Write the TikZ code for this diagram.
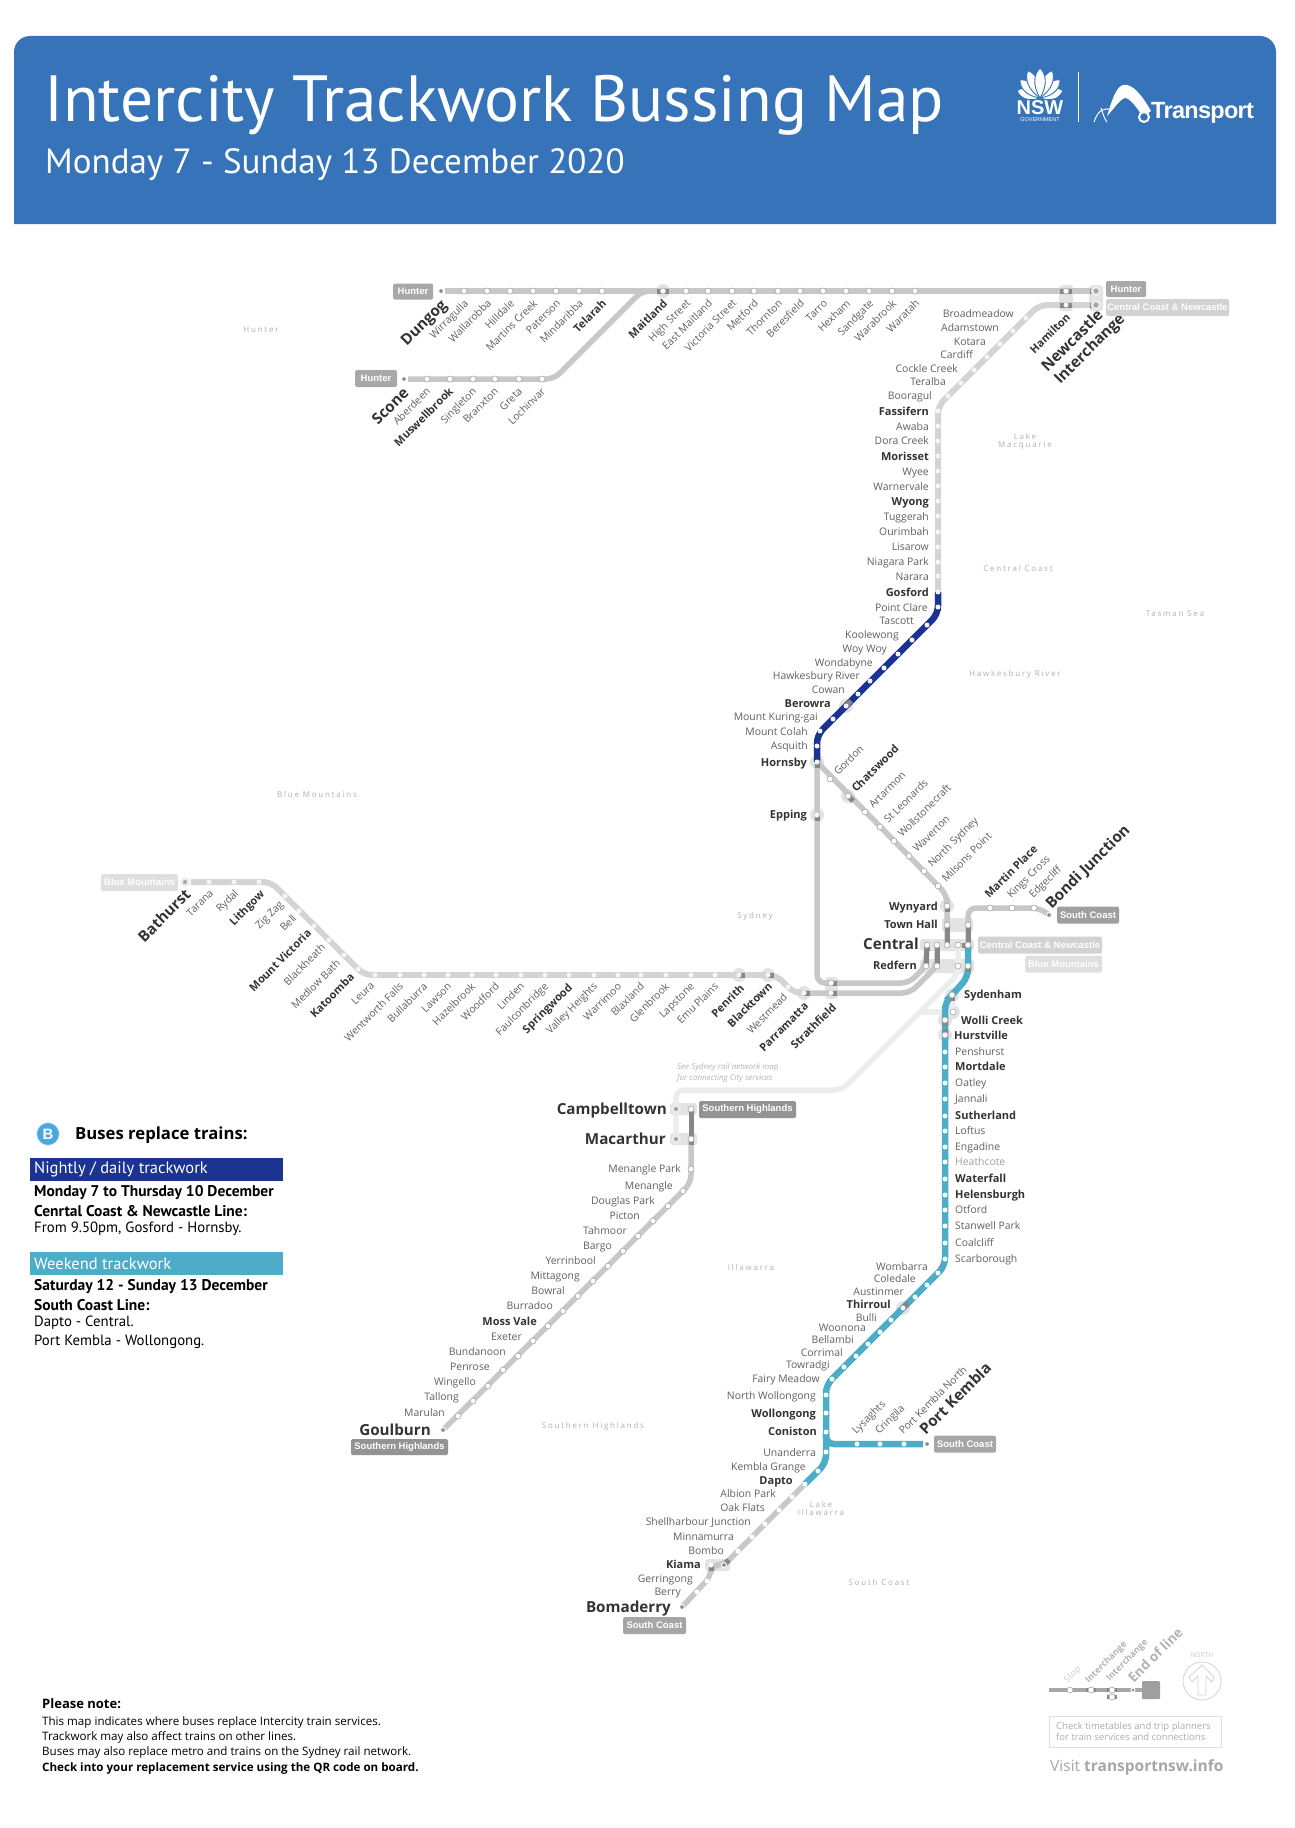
\documentclass[tikz,border=0pt]{standalone}
\usepackage{xcolor}
\usepackage{fontspec}
\usepackage{tikz}
\usetikzlibrary{calc,backgrounds,arrows.meta}
\setmainfont{Open Sans}
\newfontfamily\titlefont{PT Sans}
\newfontfamily\tagfont{Liberation Sans}
\newfontfamily\logofont[LetterSpace=-3]{Liberation Sans}
\newfontfamily\regionfont[LetterSpace=22]{Open Sans}
\definecolor{headblue}{HTML}{3673B8}
\definecolor{busblue}{HTML}{4BA6DC}
\definecolor{navyline}{HTML}{1B3391}
\definecolor{tealline}{HTML}{4DADC8}
\definecolor{railgrey}{HTML}{C8C8C8}
\definecolor{railfade}{HTML}{D4D4D4}
\definecolor{faintline}{HTML}{EDEDED}
\definecolor{halogrey}{HTML}{E3E3E3}
\definecolor{stubgrey}{HTML}{878787}
\definecolor{inkdark}{HTML}{333333}
\definecolor{inksoft}{HTML}{5E5F61}
\newcommand{\fs}[1]{\fontsize{#1}{#1}\selectfont}
\tikzset{
  rail/.style={line width=5.5pt, draw=railgrey, rounded corners=8pt},
  railfaded/.style={rail, draw=railfade, line width=6pt},
  railnavy/.style={rail, draw=navyline, line width=6.5pt},
  railteal/.style={rail, draw=tealline, line width=6.5pt},
  railfaint/.style={rail, draw=faintline},
  stubline/.style={line width=5pt, draw=stubgrey},
  stopnode/.style={circle, inner sep=0pt, minimum size=6pt, fill=white, draw=gray!70, line width=.6pt},
  stopfade/.style={circle, inner sep=0pt, minimum size=5pt, fill=white!96!black},
  enddot/.style={circle, inner sep=0pt, minimum size=5pt, fill=gray!90, draw=white, line width=1pt},
  endring/.style={circle, inner sep=0pt, minimum size=8pt, fill=gray!70, draw=white!92!black, line width=2.4pt},
  slab/.style={inner sep=0pt, text height=8pt, text depth=2pt, text=inksoft, font=\fs{10.4}},
  sbold/.style={inner sep=0pt, text height=8pt, text depth=2pt, text=inkdark, font=\fs{11}\bfseries},
  sfade/.style={slab, text=gray!75},
  sbig/.style={inner sep=0pt, text height=11pt, text depth=3pt, text=inkdark, font=\fs{15.2}\bfseries},
  linetag/.style={rounded corners=1.5pt, inner sep=0pt, text=white, font=\tagfont\fs{9.5}\bfseries},
  region/.style={inner sep=0pt, text=gray!62, align=center, font=\regionfont\fs{8}},
  note/.style={inner sep=0pt, anchor=west, text=black, font=\titlefont\fs{14.8}},
  noteb/.style={note, font=\titlefont\fs{15.5}\bfseries},
  noter/.style={inner sep=0pt, anchor=west, text=black, font=\fs{11.6}},
  barlab/.style={inner sep=0pt, anchor=west, text=white, font=\titlefont\fs{16.5}},
  pale/.style={inner sep=0pt, text=gray!60, font=\fs{9}}
}
\begin{document}
\begin{tikzpicture}[x=1pt,y=-1pt]
\useasboundingbox (0,0) rectangle (1294,1828);

% header
\fill[headblue] (14,224) [rounded corners=16pt] -- (14,36) -- (1276,36) [sharp corners] -- (1276,224) -- cycle;
\node[inner sep=0pt, anchor=west, text=white, font=\titlefont\fs{65.3}] (title) at (44,105) {Intercity Trackwork Bussing Map};
\node[inner sep=0pt, anchor=west, text=white, font=\titlefont\fs{35}] (subtitle) at (45,165) {Monday 7 - Sunday 13 December 2020};

% logos
\foreach \a/\l in {-72/24,72/24,-48/27,48/27,-24/30,24/30,0/30}
  \filldraw[white, draw=headblue, line width=.9pt, rotate around={\a:(1040,98)}] (1040,98) .. controls (1032,98-.45*\l) and (1034,98-.8*\l) .. (1040,98-\l) .. controls (1046,98-.8*\l) and (1048,98-.45*\l) .. (1040,98) -- cycle;
\node[inner sep=0pt, text=white, font=\tagfont\fs{20}\bfseries] (nsw) at (1040,108) {NSW};
\node[inner sep=0pt, text=white, font=\tagfont\fs{5.5}] (nswgov) at (1040,119.5) {GOVERNMENT};
\draw[white, line width=.8pt] (1078,72) -- (1078,122);
\fill[white] (1107,116) .. controls (1112,100) and (1116,87) .. (1123,85) .. controls (1133,83) and (1143,97) .. (1151,111) -- (1143,117) .. controls (1137,108) and (1130,98) .. (1125,98) .. controls (1120,99) and (1113,110) .. (1107,116) -- cycle;
\draw[white, fill=headblue, line width=2pt] (1144,117) circle[radius=5];
\draw[white, line width=1pt] (1094,122) .. controls (1098,110) and (1104,107) .. (1112,110);
\draw[white, line width=1pt] (1101,108) .. controls (1103,114) and (1104,118) .. (1107,122);
\node[inner sep=0pt, anchor=west, text=white, font=\logofont\fs{23.5}\bfseries] (transport) at (1151,113) {Transport};

% region names
\foreach \id/\x/\y/\lab in {rhunter/261/330/Hunter, rmacq/1025/441/{Lake\\Macquarie}, rcoast/1018/568/Central Coast,
  rtasman/1175/614/Tasman Sea, rhawk/1015/674/Hawkesbury River, rblue/317/794/Blue Mountains, rsyd/755/916/Sydney,
  rilla/751/1267/Illawarra, rhigh/593/1426/Southern Highlands, rlake/821/1508/{Lake\\Illawarra}, rsouth/879/1582/South Coast}
  \node[region] (\id) at (\x,\y) {\lab};
\node[inner sep=0pt, anchor=north west, align=left, text=gray!60, font=\fs{8}\itshape] (seemap) at (677,1063) {See Sydney rail network map\\[2pt]for connecting City services};

% Hunter line
\foreach \id/\x/\lab/\sty in {wirragulla/464/Wirragulla/slab, wallarobba/487/Wallarobba/slab, hilldale/510/Hilldale/slab,
  martinscreek/533/Martins Creek/slab, paterson/556/Paterson/slab, mindaribba/579/Mindaribba/slab, telarah/602/Telarah/sbold,
  maitland/663/Maitland/sbold, highstreet/686/High Street/slab, eastmaitland/708/East Maitland/slab, victoriast/732/Victoria Street/slab,
  metford/754/Metford/slab, thornton/778/Thornton/slab, beresfield/800/Beresfield/slab, tarro/823/Tarro/slab, hexham/846/Hexham/slab,
  sandgate/869/Sandgate/slab, warabrook/892/Warabrook/slab, waratah/915/Waratah/slab}
{
  \node[stopnode] (\id) at (\x,291) {};
  \node[\sty, rotate=45, anchor=east] (\id-t) at (\x+3,302) {\lab};
}
\node[stopnode] (hamilton) at (1066,291) {};
\node[sbold, rotate=45, anchor=east] (hamilton-t) at (1069,316) {Hamilton};
\foreach \id/\x/\lab/\sty in {aberdeen/427/Aberdeen/slab, muswellbrook/450/Muswellbrook/sbold, singleton/473/Singleton/slab,
  branxton/495/Branxton/slab, greta/519/Greta/slab, lochinvar/542/Lochinvar/slab}
{
  \node[stopnode] (\id) at (\x,379) {};
  \node[\sty, rotate=45, anchor=east] (\id-t) at (\x+2,390) {\lab};
}
\node[enddot] (dungog) at (441,291) {};
\node[sbig, rotate=45, anchor=east] (dungog-t) at (445,303) {Dungog};
\node[enddot] (scone) at (404,379) {};
\node[sbig, rotate=45, anchor=east] (scone-t) at (407,391) {Scone};
\coordinate (hunterstart) at (445,291);
\coordinate (sconestart) at (408,379);
\coordinate (sconebend) at (554,379);
\coordinate (hunterbend) at (642,291);
\node[stopfade] (hamiltonb) at (1066,305) {};
\node[endring] (newcastleu) at (1096,291) {};
\node[endring] (newcastleb) at (1096,305) {};
\node[rotate=45, inner sep=0pt, anchor=west, align=left, text=inkdark, font=\fs{15.3}\bfseries] (newcastle-t) at (1051,376) {Newcastle\\[2.5pt]Interchange};
\node[linetag, fill=gray!68, minimum width=40pt, minimum height=16pt] (taghunter1) at (413,291.5) {Hunter};
\node[linetag, fill=gray!68, minimum width=42pt, minimum height=17pt] (taghunter2) at (376,378.5) {Hunter};
\node[linetag, fill=gray!68, minimum width=40pt, minimum height=16pt] (taghunter3) at (1126,289) {Hunter};
\node[linetag, fill=gray!35, minimum width=123pt, minimum height=17pt] (tagcc1) at (1167.5,307.5) {Central Coast \& Newcastle};

% Central Coast and Newcastle line
\foreach \id/\x/\y/\lx/\ly/\lab/\sty in {
  broadmeadow/1026/318/1014/314/Broadmeadow/slab, adamstown/1013/331/999/328/Adamstown/slab, kotara/1000/344/986/342/Kotara/slab,
  cardiff/987/357/973/355/Cardiff/slab, cocklecreek/974/370/958/369/Cockle Creek/slab, teralba/961/383/946/382/Teralba/slab,
  booragul/948/396/932/396/Booragul/slab, fassifern/938/411/929/412/Fassifern/sbold, awaba/938/426/929/427/Awaba/slab,
  doracreek/938/441/929/441/Dora Creek/slab, morisset/938/456/929/457/Morisset/sbold, wyee/938/471/929/472/Wyee/slab,
  warnervale/938/486/929/487/Warnervale/slab, wyong/938/501/929/502/Wyong/sbold, tuggerah/938/516/929/517/Tuggerah/slab,
  ourimbah/938/532/929/532/Ourimbah/slab, lisarow/938/547/929/547/Lisarow/slab, niagarapark/938/562/929/562/Niagara Park/slab,
  narara/938/576/929/577/Narara/slab, gosford/938/592/929/593/Gosford/sbold, pointclare/938/607/928/608/Point Clare/slab,
  tascott/927/625/914/621/Tascott/slab, koolewong/912/640/899/635/Koolewong/slab, woywoy/898/654/887/649/Woy Woy/slab,
  wondabyne/884/668/873/663/Wondabyne/slab, hawkesbury/870/681/860/676/Hawkesbury River/slab, cowan/858/694/845/690/Cowan/slab,
  berowra/846/706/831/704/Berowra/sbold, kuringgai/833/719/818/717/Mount Kuring-gai/slab, mountcolah/820/731/808/732/Mount Colah/slab,
  asquith/817/746/808/746/Asquith/slab, hornsby/817/762/807/763/Hornsby/sbold, epping/817/815/807/815/Epping/sbold}
{
  \node[stopfade] (\id) at (\x,\y) {};
  \node[\sty, anchor=east] (\id-t) at (\lx,\ly) {\lab};
}
\coordinate (ccbend1) at (1039,305);
\coordinate (ccbend2) at (938,406);
\coordinate (navybend1) at (938,614);
\coordinate (navybend2) at (817,735);

% North Shore
\foreach \id/\x/\y/\lab/\sty in {gordon/830/779/Gordon/slab, chatswood/848/796/Chatswood/sbold, artarmon/865/812/Artarmon/slab,
  stleonards/880/827/St Leonards/slab, wollstonecraft/894/841/Wollstonecraft/slab, waverton/909/856/Waverton/slab,
  northsydney/924/871/North Sydney/slab, milsons/938/886/Milsons Point/slab}
{
  \node[stopnode] (\id) at (\x,\y) {};
  \node[\sty, rotate=45, anchor=west] (\id-t) at (\x+6,\y-5) {\lab};
}
\coordinate (northbend) at (947,895);

% City stations
\foreach \id/\x/\y in {wynyard/947/906, townhalla/947/925, townhallb/968/925, centrala/927/945, centralb/937/945, centralc/947/945,
  centrald/958/945, centrale/968/945, redferna/926/966, redfernb/937/966, redfernc/958/966, redfernd/968/966}
  \node[stopnode] (\id) at (\x,\y) {};
\node[sbold, anchor=east] (wynyard-t) at (938,907) {Wynyard};
\node[sbold, anchor=east] (townhall-t) at (938,925) {Town Hall};
\node[sbig, anchor=east] (central-t) at (919,945) {Central};
\node[sbold, anchor=east] (redfern-t) at (917,966) {Redfern};
\node[linetag, fill=gray!35, minimum width=124pt, minimum height=17pt] (tagcc2) at (1040,945) {Central Coast \& Newcastle};
\node[linetag, fill=gray!25, minimum width=77pt, minimum height=17pt] (tagblue2) at (1063.5,964) {Blue Mountains};

% Eastern Suburbs
\foreach \id/\x/\lab/\sty in {martinplace/990/Martin Place/sbold, kingscross/1012/Kings Cross/slab, edgecliff/1034/Edgecliff/slab}
{
  \node[stopnode] (\id) at (\x,908) {};
  \node[\sty, rotate=45, anchor=west] (\id-t) at (\x-3,897) {\lab};
}
\node[enddot] (bondi) at (1049,915) {};
\node[sbig, rotate=45, anchor=west] (bondi-t) at (1049,907) {Bondi Junction};
\node[linetag, fill=gray!75, minimum width=62pt, minimum height=17pt] (tagsouth1) at (1088,915) {South Coast};
\coordinate (eastbend1) at (968,908);
\coordinate (eastbend2) at (1040,908);

% Blue Mountains line
\node[endring, minimum size=7pt] (bathurst) at (185,882) {};
\node[sbig, rotate=45, anchor=east] (bathurst-t) at (189,893) {Bathurst};
\node[linetag, fill=gray!25, minimum width=77pt, minimum height=17pt] (tagblue1) at (139.5,882.5) {Blue Mountains};
\foreach \id/\x/\y/\lx/\ly/\lab/\sty in {
  tarana/209/882/212/892/Tarana/slab, rydal/234/882/237/892/Rydal/slab, lithgow/259/882/263/893/Lithgow/sbold,
  zigzag/285/896/282/903/Zig Zag/slab, bell/299/911/295/917/Bell/slab, mtvictoria/314/926/310/932/Mount Victoria/sbold,
  blackheath/329/940/324/946/Blackheath/slab, medlow/344/955/339/962/Medlow Bath/slab, katoomba/358/969/353/976/Katoomba/sbold,
  leura/375/975/373/984/Leura/slab, wentworth/400/975/402/985/Wentworth Falls/slab, bullaburra/424/975/426/985/Bullaburra/slab,
  lawson/448/975/450/985/Lawson/slab, hazelbrook/472/975/474/985/Hazelbrook/slab, woodford/496/975/498/985/Woodford/slab,
  linden/521/975/523/985/Linden/slab, faulcon/545/975/547/985/Faulconbridge/slab, springwood/569/975/571/986/Springwood/sbold,
  valley/594/975/596/985/Valley Heights/slab, warrimoo/618/975/620/985/Warrimoo/slab, blaxland/641/975/643/985/Blaxland/slab,
  glenbrook/666/975/668/985/Glenbrook/slab, lapstone/691/975/693/985/Lapstone/slab, emuplains/715/975/717/985/Emu Plains/slab,
  penrith/739/975/743/987/Penrith/sbold, blacktown/768/975/771/985/Blacktown/sbold, westmead/788/987/786/996/Westmead/slab,
  parramatta/804/993/807/1005/Parramatta/sbold, strathfieldb/831/993/835/1006/Strathfield/sbold}
{
  \node[stopfade] (\id) at (\x,\y) {};
  \node[\sty, rotate=45, anchor=east] (\id-t) at (\lx,\ly) {\lab};
}
\node[stopnode] (strathfielda) at (831,983) {};
\coordinate (bluestart) at (191,882);
\coordinate (bluebend1) at (271,882);
\coordinate (bluebend2) at (364,975);
\coordinate (bluebend3) at (776,975);
\coordinate (bluebend4) at (794,993);
\coordinate (eppbend1) at (817,983);
\coordinate (eppbend2) at (909,983);
\coordinate (strbend) at (910,993);

% South Coast line
\foreach \id/\x/\y/\lab/\sty in {penshurst/945/1052/Penshurst/slab, mortdale/945/1067/Mortdale/sbold, oatley/945/1083/Oatley/slab,
  jannali/945/1099/Jannali/slab, sutherland/945/1116/Sutherland/sbold, loftus/945/1131/Loftus/slab, engadine/945/1147/Engadine/slab,
  heathcote/945/1162/Heathcote/sfade, waterfall/945/1179/Waterfall/sbold, helensburgh/945/1195/Helensburgh/sbold, otford/945/1210/Otford/slab,
  stanwell/945/1226/Stanwell Park/slab, coalcliff/945/1243/Coalcliff/slab, scarborough/945/1259/Scarborough/slab}
{
  \node[stopfade, fill=white] (\id) at (\x,\y) {};
  \node[\sty, anchor=west] (\id-t) at (955,\y) {\lab};
}
\node[stopnode] (sydenham) at (952,995) {};
\node[stopnode] (wollia) at (953,1012) {};
\node[stopnode] (wollib) at (945,1020) {};
\node[stopnode] (hurstville) at (945,1035) {};
\node[sbold, anchor=west] (sydenham-t) at (964,995) {Sydenham};
\node[sbold, anchor=west] (wolli-t) at (961,1021) {Wolli Creek};
\node[sbold, anchor=west] (hurstville-t) at (954,1036) {Hurstville};
\foreach \id/\x/\y/\lx/\ly/\lab/\sty in {
  wombarra/938/1273/928/1267/Wombarra/slab, coledale/927/1285/916/1279/Coledale/slab, austinmer/915/1297/904/1292/Austinmer/slab,
  thirroul/903/1308/891/1305/Thirroul/sbold, bulli/891/1320/877/1318/Bulli/slab, woonona/880/1332/866/1328/Woonona/slab,
  bellambi/868/1344/854/1340/Bellambi/slab, corrimal/856/1356/843/1353/Corrimal/slab, towradgi/844/1367/830/1365/Towradgi/slab,
  fairymeadow/832/1379/820/1379/Fairy Meadow/slab, northwollongong/826/1395/816/1396/North Wollongong/slab,
  wollongong/826/1413/816/1414/Wollongong/sbold, coniston/826/1432/817/1432/Coniston/sbold, unanderra/826/1452/816/1453/Unanderra/slab,
  kembla/818/1471/806/1467/Kembla Grange/slab, dapto/805/1484/793/1481/Dapto/sbold, albion/792/1497/776/1494/Albion Park/slab,
  oakflats/779/1510/765/1508/Oak Flats/slab, shellharbour/765/1524/751/1522/Shellharbour Junction/slab,
  minnamurra/752/1537/734/1537/Minnamurra/slab, bombo/738/1551/724/1551/Bombo/slab, kiamaa/711/1565/701/1565/Kiama/sbold,
  gerringong/707/1581/693/1579/Gerringong/slab, berry/697/1592/681/1592/Berry/slab}
{
  \node[stopfade, fill=white] (\id) at (\x,\y) {};
  \node[\sty, anchor=east] (\id-t) at (\lx,\ly) {\lab};
}
\node[enddot] (kiamab) at (724,1565) {};
\node[enddot] (bomaderry) at (682,1607) {};
\node[sbig, anchor=east] (bomaderry-t) at (671,1608) {Bomaderry};
\node[linetag, fill=gray!70, minimum width=63pt, minimum height=17pt] (tagsouth3) at (654.5,1625.5) {South Coast};
\foreach \id/\x/\lab in {lysaghts/857/Lysaghts, cringila/880/Cringila, pkmeblanth/904/Port Kembla North}
{
  \node[stopfade, fill=white] (\id) at (\x,1444) {};
  \node[slab, rotate=45, anchor=west] (\id-t) at (\x-3,1433) {\lab};
}
\node[enddot] (portkembla) at (927,1444) {};
\node[sbig, rotate=45, anchor=west] (portkembla-t) at (923,1433) {Port Kembla};
\node[linetag, fill=gray!70, minimum width=62pt, minimum height=17pt] (tagsouth2) at (965,1444) {South Coast};
\coordinate (tealbend1) at (968,977);
\coordinate (tealbend2) at (945,1002);
\coordinate (tealbend3) at (945,1266);
\coordinate (tealbend4) at (826,1385);
\coordinate (tealbend5) at (826,1463);
\coordinate (pkbend) at (826,1444);
\coordinate (pkend) at (923,1444);
\coordinate (kiamabend) at (711,1576);

% Southern Highlands line
\foreach \id/\x/\y/\lx/\ly/\lab/\sty in {
  menanglepark/691/1169/681/1169/Menangle Park/slab, menangle/683/1191/673/1186/Menangle/slab, douglaspark/668/1206/655/1201/Douglas Park/slab,
  picton/653/1221/640/1216/Picton/slab, tahmoor/638/1236/627/1231/Tahmoor/slab, bargo/623/1251/612/1246/Bargo/slab,
  yerrinbool/608/1266/596/1261/Yerrinbool/slab, mittagong/593/1281/580/1276/Mittagong/slab, bowral/578/1296/565/1291/Bowral/slab,
  burradoo/563/1311/553/1306/Burradoo/slab, mossvale/548/1326/537/1322/Moss Vale/sbold, exeter/533/1341/522/1337/Exeter/slab,
  bundanoon/518/1356/506/1352/Bundanoon/slab, penrose/503/1370/490/1367/Penrose/slab, wingello/488/1386/476/1382/Wingello/slab,
  tallong/473/1401/459/1397/Tallong/slab, marulan/458/1416/445/1413/Marulan/slab}
{
  \node[stopnode] (\id) at (\x,\y) {};
  \node[\sty, anchor=east] (\id-t) at (\lx,\ly) {\lab};
}
\node[enddot] (goulburn) at (443,1430) {};
\node[sbig, anchor=east] (goulburn-t) at (431,1431) {Goulburn};
\node[linetag, fill=gray!85, minimum width=97pt, minimum height=16pt] (taghigh2) at (399.5,1447) {Southern Highlands};
\node[endring, minimum size=7pt] (campbella) at (676,1109) {};
\node[stopnode] (campbellb) at (691,1109) {};
\node[endring, minimum size=7pt] (macarthura) at (676,1139) {};
\node[stopnode] (macarthurb) at (691,1139) {};
\node[sbig, anchor=east] (campbell-t) at (667,1110) {Campbelltown};
\node[sbig, anchor=east] (macarthur-t) at (666,1140) {Macarthur};
\node[linetag, fill=gray!85, minimum width=97pt, minimum height=17pt] (taghigh1) at (747.5,1109.5) {Southern Highlands};
\coordinate (highbend) at (691,1183);
\coordinate (faintbend1) at (676,1090);
\coordinate (faintbend2) at (842,1090);
\coordinate (faintbend3) at (958,974);
\coordinate (faintjoin) at (922,1012);

% rail lines go underneath the stations
\begin{scope}[on background layer]
  \fill[halogrey, rounded corners=3pt] (1059,285) rectangle (1073,311);
  \fill[halogrey, rounded corners=3pt] (1089,285) rectangle (1103,311);
  \fill[halogrey, rounded corners=3pt] (942,918) rectangle (973,932);
  \fill[halogrey, rounded corners=3pt] (920,939) rectangle (974,951);
  \fill[halogrey, rounded corners=3pt] (920,959) rectangle (974,973);
  \fill[halogrey, rounded corners=3pt] (825,977) rectangle (838,999);
  \fill[halogrey, rounded corners=3pt] (670,1103) rectangle (697,1115);
  \fill[halogrey, rounded corners=3pt] (670,1133) rectangle (697,1145);
  \fill[halogrey, rounded corners=3pt] (705,1559) rectangle (730,1571);
  \foreach \id in {maitland,hornsby,epping,chatswood,berowra,wynyard,penrith,blacktown,parramatta,thirroul,sydenham,wollia,wollib,hurstville}
    \fill[halogrey] (\id) circle[radius=7];
  \draw[railfaint] (wollia.center) -- (faintjoin);
  \draw[railfaint] (sydenham.center) -- (wollia.center);
  \draw[railfaint] (macarthura.center) -- (campbella.center) -- (faintbend1) -- (faintbend2) -- (faintbend3) -- (redfernc.center) -- (centrald.center);
  \draw[rail] (hunterstart) -- (newcastleu.center);
  \draw[rail] (sconestart) -- (sconebend) -- (hunterbend) -- (maitland.center);
  \draw[railfaded] (newcastleb.center) -- (ccbend1) -- (ccbend2) -- (gosford.center);
  \draw[railnavy] (gosford.center) -- (navybend1) -- (navybend2) -- (hornsby.center);
  \draw[rail] (hornsby.center) -- (northbend) -- (wynyard.center) -- (centralc.center);
  \draw[rail] (hornsby.center) -- (eppbend1) -- (eppbend2) -- (redferna.center) -- (centrala.center);
  \draw[rail] (parramatta.center) -- (strbend) -- (redfernb.center) -- (centralb.center);
  \draw[railfaded] (bluestart) -- (bluebend1) -- (bluebend2) -- (bluebend3) -- (bluebend4) -- (parramatta.center);
  \draw[rail] (centrale.center) -- (eastbend1) -- (eastbend2) -- (bondi.center);
  \draw[railteal] (centrale.center) -- (tealbend1) -- (sydenham.center) -- (tealbend2) -- (tealbend3) -- (tealbend4) -- (tealbend5) -- (dapto.center);
  \draw[railteal] (coniston.center) -- (pkbend) -- (pkend);
  \draw[rail] (dapto.center) -- (kiamab.center) -- (kiamaa.center) -- (kiamabend) -- (bomaderry.center);
  \draw[rail] (macarthurb.center) -- (highbend) -- (goulburn.center);
  % dark stubs at the interchanges
  \foreach \id/\dx/\dy in {maitland/6/0,hamilton/6/0,hamiltonb/6/0,newcastleu/-6/0,newcastleb/-6/0,hornsby/0/6,epping/0/6,chatswood/5/5,
    berowra/5/-5,wynyard/0/6,townhalla/0/6,townhallb/0/6,centralc/0/-6,centrale/0/-6,centrale/-6/0,centrala/0/6,centralb/0/6,
    redferna/0/-6,redfernb/0/-6,redfernd/0/6,penrith/6/0,blacktown/6/0,parramatta/6/0,strathfielda/6/0,strathfieldb/6/0,
    thirroul/5/-5,sydenham/0/6,wollib/0/6,hurstville/0/-6,kiamaa/0/6,kiamab/5/-5,campbellb/0/6,macarthurb/0/6}
    \draw[stubline] (\id.center) -- ($(\id.center)+(\dx,\dy)$);
  \draw[stubline] (campbellb.center) -- (macarthurb.center);
  \draw[stubline] (hamilton.center) ++(-6,0) -- ++(12,0);
  \draw[stubline] (hamiltonb.center) ++(-6,0) -- ++(12,0);
  \draw[stubline] (maitland.center) ++(-6,0) -- ++(12,0);
  \draw[stubline] (centralc.center) -- (townhalla.center);
  \draw[stubline] (centrale.center) -- (townhallb.center);
  \draw[stubline] (centrala.center) -- (redferna.center);
  \draw[stubline] (centralb.center) -- (redfernb.center);
\end{scope}

% legend
\node[circle, fill=busblue, inner sep=0pt, minimum size=23pt, draw=white!80!busblue, line width=1pt, text=white, font=\tagfont\fs{15}\bfseries] (busb) at (48,1134) {B};
\node[inner sep=0pt, anchor=west, text=black, font=\fs{16.7}\bfseries] (busheading) at (75,1135) {Buses replace trains:};
\fill[navyline] (30,1158) rectangle (283,1181);
\node[barlab] (nightly) at (34,1169.5) {Nightly / daily trackwork};
\node[noteb] (n1) at (34,1193) {Monday 7 to Thursday 10 December};
\node[noteb] (n2) at (34,1211) {Cenrtal Coast \& Newcastle Line:};
\node[note] (n3) at (34,1229) {From 9.50pm, Gosford - Hornsby.};
\fill[tealline] (30,1252) rectangle (283,1275);
\node[barlab] (weekend) at (34,1263.5) {Weekend trackwork};
\node[noteb] (w1) at (34,1287) {Saturday 12 - Sunday 13 December};
\node[noteb] (w2) at (34,1305) {South Coast Line:};
\node[note] (w3) at (34,1323) {Dapto - Central.};
\node[note] (w4) at (34,1342) {Port Kembla - Wollongong.};

% please note
\node[noter, font=\fs{13}\bfseries] (pnote) at (42,1704) {Please note:};
\node[noter] (p1) at (42,1722) {This map indicates where buses replace Intercity train services.};
\node[noter] (p2) at (42,1737) {Trackwork may also affect trains on other lines.};
\node[noter] (p3) at (42,1752) {Buses may also replace metro and trains on the Sydney rail network.};
\node[noter, font=\fs{11.6}\bfseries] (p4) at (42,1768) {Check into your replacement service using the QR code on board.};

% key
\coordinate (keystart) at (1049,1690);
\node[rounded corners=1pt, fill=gray!75, minimum size=18pt, inner sep=0pt] (keyend) at (1151,1690) {};
\node[stopnode] (keystop) at (1070,1690) {};
\node[stopnode] (keyinta) at (1091,1690) {};
\node[stopnode] (keyintb) at (1112,1690) {};
\node[stopnode] (keyintc) at (1112,1697) {};
\node[enddot, minimum size=4pt] (keyterm) at (1133,1690) {};
\begin{scope}[on background layer]
  \draw[rail, line width=3.5pt, draw=gray!70] (keystart) -- (keyend);
  \draw[stubline, line width=3.5pt] (keyinta.center) ++(-5,0) -- ++(10,0);
  \draw[stubline, line width=3.5pt] (keyintb.center) ++(-5,0) -- ++(10,0);
  \draw[stubline, line width=3.5pt] (keyintc.center) ++(-5,0) -- ++(10,0);
\end{scope}
\node[pale, rotate=45, anchor=west, text=gray!40] (keystop-t) at (1066,1682) {Stop};
\node[pale, rotate=45, anchor=west, font=\fs{9}\bfseries] (keyinta-t) at (1087,1682) {Interchange};
\node[pale, rotate=45, anchor=west, font=\fs{9}\bfseries] (keyintb-t) at (1108,1680) {Interchange};
\node[pale, rotate=45, anchor=west, font=\fs{13.5}\bfseries] (keyend-t) at (1130,1680) {End of line};
\node[pale, font=\fs{6.5}, text=gray!45] (north-t) at (1202,1655) {NORTH};
\node[circle, draw=gray!35, line width=.8pt, minimum size=38pt, inner sep=0pt] (northring) at (1202,1681) {};
\draw[gray!35, line width=.8pt, line join=round] (1202,1665) -- (1214,1677) -- (1212,1682) -- (1206,1676) -- (1206,1695) -- (1198,1695) -- (1198,1676) -- (1192,1682) -- (1189,1677) -- cycle;
\node[rectangle, draw=gray!25, line width=1pt, minimum width=172pt, minimum height=31pt, inner sep=0pt] (checkbox) at (1135,1731.5) {};
\node[pale, anchor=west, align=left, font=\fs{9.5}, text=gray!65] (check-t) at (1056,1731.5) {Check timetables and trip planners\\[1pt]for train services and connections};
\node[pale, anchor=west, font=\fs{15.5}, text=gray!70] (visit-t) at (1050,1767) {Visit \textbf{transportnsw.info}};
\end{tikzpicture}
\end{document}
